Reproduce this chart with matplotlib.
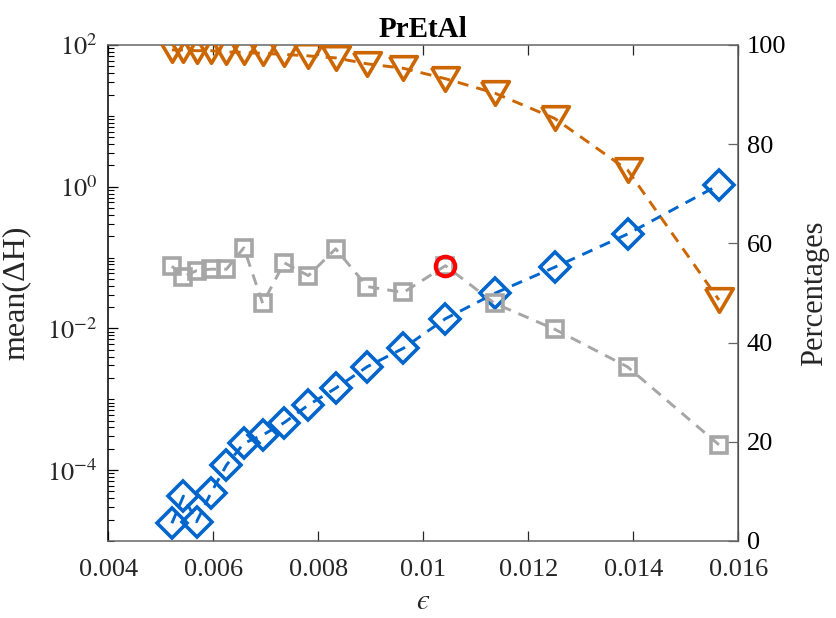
import matplotlib
matplotlib.use("Agg")
import matplotlib.pyplot as plt
import numpy as np
from matplotlib.ticker import FixedLocator, LogLocator, NullFormatter

plt.rcParams['font.family'] = ['Liberation Serif', 'DejaVu Serif']
plt.rcParams['mathtext.fontset'] = 'stix'

# step sizes
eps = [0.00521, 0.00543, 0.00568, 0.00595, 0.00625, 0.00658, 0.00694, 0.00735,
       0.00781, 0.00833, 0.00893, 0.00962, 0.01042, 0.01136, 0.0125, 0.01389, 0.01563]

# mean energy error (left, log axis)
meanDH = [1.78e-5, 4.3e-5, 1.87e-5, 4.7e-5, 1.18e-4, 2.39e-4, 3.13e-4, 4.68e-4,
          8.3e-4, 1.43e-3, 2.88e-3, 5.25e-3, 1.37e-2, 3.13e-2, 7.3e-2, 0.215, 1.06]

# percentages (right axis)
accept = [99.0, 99.0, 98.85, 98.85, 98.6, 98.5, 98.3, 98.1,
          97.8, 97.4, 96.2, 95.3, 93.2, 90.3, 85.2, 74.8, 48.6]
efficiency = [55.4, 53.3, 54.5, 54.8, 54.8, 59.1, 47.9, 56.1,
              53.5, 58.9, 51.3, 50.1, 55.5, 47.9, 42.7, 35.1, 19.4]
best = 12  # index of the chosen step size

blue = '#0066CC'
orange = '#CC6600'
gray = '#A6A6A6'

fig = plt.figure(figsize=(8.36, 6.18), dpi=100)
ax = fig.add_axes([0.1296, 0.1246, 0.7536, 0.8026])
ax2 = ax.twinx()

ax.semilogy(eps, meanDH, '--', color=blue, lw=2.1, dashes=(3.8, 2.8),
            marker='D', ms=15, mfc='none', mec=blue, mew=2.6)

tri = [(-1, 0.85), (1, 0.85), (0, -0.85), (-1, 0.85)]
ax2.plot(eps, accept, '--', color=orange, lw=2.1, dashes=(3.8, 2.8),
         marker=tri, ms=20, mfc='none', mec=orange, mew=2.6)
ax2.plot(eps, efficiency, '--', color=gray, lw=2.1, dashes=(3.8, 2.8),
         marker='s', ms=11.5, mfc='none', mec=gray, mew=2.6)
ax2.plot(eps[best], efficiency[best], 'o', ms=14, mfc='none', mec='#FF0000', mew=3)

ax.set_xlim(0.004, 0.016)
ax.set_ylim(1e-5, 1e2)
ax2.set_ylim(0, 100)

xt = [0.004, 0.006, 0.008, 0.01, 0.012, 0.014, 0.016]
xtl = ['0.004', '0.006', '0.008', '0.01', '0.012', '0.014', '0.016']
ax.set_xticks(xt)
ax.set_xticklabels(xtl)

ax.yaxis.set_major_locator(FixedLocator([1e-4, 1e-2, 1e0, 1e2]))
ax.set_yticklabels([r'$10^{-4}$', r'$10^{-2}$', r'$10^{0}$', r'$10^{2}$'])
ax.yaxis.set_minor_locator(LogLocator(base=10, subs=np.arange(1, 10), numticks=30))
ax.yaxis.set_minor_formatter(NullFormatter())

ax2.set_yticks([0, 20, 40, 60, 80, 100])

tc = '#262626'
ax.tick_params(axis='both', which='major', direction='in', length=7, width=0.9,
               labelsize=19, colors=tc, top=True, pad=8)
ax.tick_params(axis='x', which='major', pad=13)
ax.tick_params(axis='y', which='minor', direction='in', length=4, width=0.8, colors='k')
ax.tick_params(axis='y', colors='k', labelcolor=tc)
ax.tick_params(axis='x', which='minor', bottom=False, top=False)
ax2.tick_params(axis='y', direction='in', length=7, width=0.9, labelsize=19,
                colors='#666666', labelcolor='k', pad=6)

for s in ['bottom', 'top']:
    ax.spines[s].set_color('#666666')
    ax.spines[s].set_linewidth(1.1)
ax.spines['left'].set_color('k')
ax.spines['left'].set_linewidth(1.1)
ax2.spines['right'].set_color('#666666')
ax2.spines['right'].set_linewidth(1.1)
for s in ['left', 'top', 'bottom']:
    ax2.spines[s].set_visible(False)

ax.set_xlabel('$ϵ$', fontsize=21, color=tc, labelpad=6)
ax.set_ylabel('mean(ΔH)', fontsize=23, color=tc, labelpad=12)
ax2.set_ylabel('Percentages', fontsize=22, color=tc, labelpad=10)
ax.set_title('PrEtAl', fontsize=21, fontweight='bold', pad=6)

fig.savefig('out.png', dpi=100)
